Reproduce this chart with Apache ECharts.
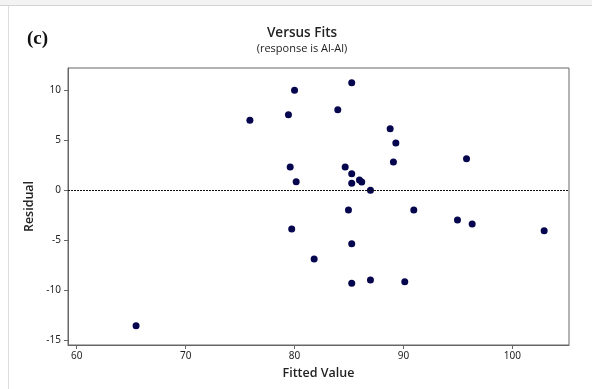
<!DOCTYPE html>
<html>
<head>
<meta charset="utf-8">
<title>Versus Fits</title>
<script src="https://cdn.jsdelivr.net/npm/echarts@6/dist/echarts.min.js"></script>
<style>
  html, body { margin: 0; padding: 0; background: #fff; }
  #chart { width: 592px; height: 389px; }
</style>
</head>
<body>
<div id="chart"></div>
<script>
// Residuals against fitted values (response is Al-Al)
const fittedValues = [75.9, 80.0, 79.44, 85.25, 83.97, 88.78, 89.3, 89.08, 95.79, 79.6,
  80.15, 84.65, 85.25, 85.25, 85.96, 86.17, 86.97, 84.95, 90.95, 79.74,
  94.96, 96.31, 85.25, 81.8, 85.25, 86.97, 90.12, 65.45, 102.92];
const residuals = [6.97, 9.97, 7.53, 10.73, 8.03, 6.13, 4.7, 2.8, 3.13, 2.3,
  0.83, 2.3, 1.63, 0.67, 1.0, 0.8, -0.03, -2.0, -2.0, -3.9,
  -3.0, -3.4, -5.37, -6.9, -9.33, -9.0, -9.17, -13.57, -4.07];
const xTicks = [60, 70, 80, 90, 100];
const yTicks = [-15, -10, -5, 0, 5, 10];

const points = fittedValues.map((f, i) => [f, residuals[i]]);
const chart = echarts.init(document.getElementById('chart'), null, { renderer: 'canvas' });

const tickFont = { fontFamily: 'Noto Sans', fontSize: 10, color: '#1e1e1e' };

chart.setOption({
  animation: false,
  backgroundColor: '#fff',
  grid: {
    left: 68, right: 23, top: 68, bottom: 44,
    show: true, borderColor: '#666', borderWidth: 1, backgroundColor: '#fff'
  },
  xAxis: {
    type: 'value', min: 59.2, max: 105.2,
    name: 'Fitted Value', nameLocation: 'middle', nameGap: 22,
    nameTextStyle: { fontFamily: 'Open Sans', fontWeight: 600, fontSize: 12.5, color: '#222' },
    axisLine: { show: true, onZero: false, lineStyle: { color: '#666' } },
    axisTick: { show: true, length: 4, customValues: xTicks, lineStyle: { color: '#666' } },
    axisLabel: Object.assign({ margin: 6, customValues: xTicks }, tickFont),
    splitLine: { show: false }
  },
  yAxis: {
    type: 'value', min: -15.5, max: 12.2,
    name: 'Residual', nameLocation: 'middle', nameGap: 30, nameRotate: 90,
    nameTextStyle: { fontFamily: 'Open Sans', fontWeight: 600, fontSize: 12.5, color: '#222' },
    axisLine: { show: true, onZero: false, lineStyle: { color: '#666' } },
    axisTick: { show: true, length: 4, customValues: yTicks, lineStyle: { color: '#666' } },
    axisLabel: Object.assign({ margin: 7, customValues: yTicks }, tickFont),
    splitLine: { show: false }
  },
  series: [{
    type: 'scatter',
    data: points,
    symbol: 'circle',
    symbolSize: 7,
    itemStyle: { color: '#06064f', opacity: 1 },
    markLine: {
      silent: true,
      symbol: ['none', 'none'],
      label: { show: false },
      lineStyle: { color: '#111', type: [2, 1], width: 1 },
      data: [{ yAxis: 0 }]
    }
  }],
  graphic: [
    { type: 'rect', shape: { x: 0, y: 0, width: 592, height: 5 }, style: { fill: '#f3f3f3' }, silent: true },
    { type: 'line', shape: { x1: 0, y1: 5.5, x2: 592, y2: 5.5 }, style: { stroke: '#d4d4d4', lineWidth: 1 }, silent: true },
    { type: 'line', shape: { x1: 8.5, y1: 6, x2: 8.5, y2: 389 }, style: { stroke: '#dcdcdc', lineWidth: 1 }, silent: true },
    { type: 'text', x: 27, y: 39, style: { text: '(c)', fontFamily: 'Liberation Serif', fontWeight: 'bold', fontSize: 19, fill: '#111', textVerticalAlign: 'middle' } },
    { type: 'text', x: 302, y: 33, style: { text: 'Versus Fits', fontFamily: 'Open Sans', fontWeight: 600, fontSize: 13.5, fill: '#222', textAlign: 'center', textVerticalAlign: 'middle' } },
    { type: 'text', x: 302, y: 48.5, style: { text: '(response is Al-Al)', fontFamily: 'Open Sans', fontSize: 11, fill: '#222', textAlign: 'center', textVerticalAlign: 'middle' } }
  ]
});
</script>
</body>
</html>
